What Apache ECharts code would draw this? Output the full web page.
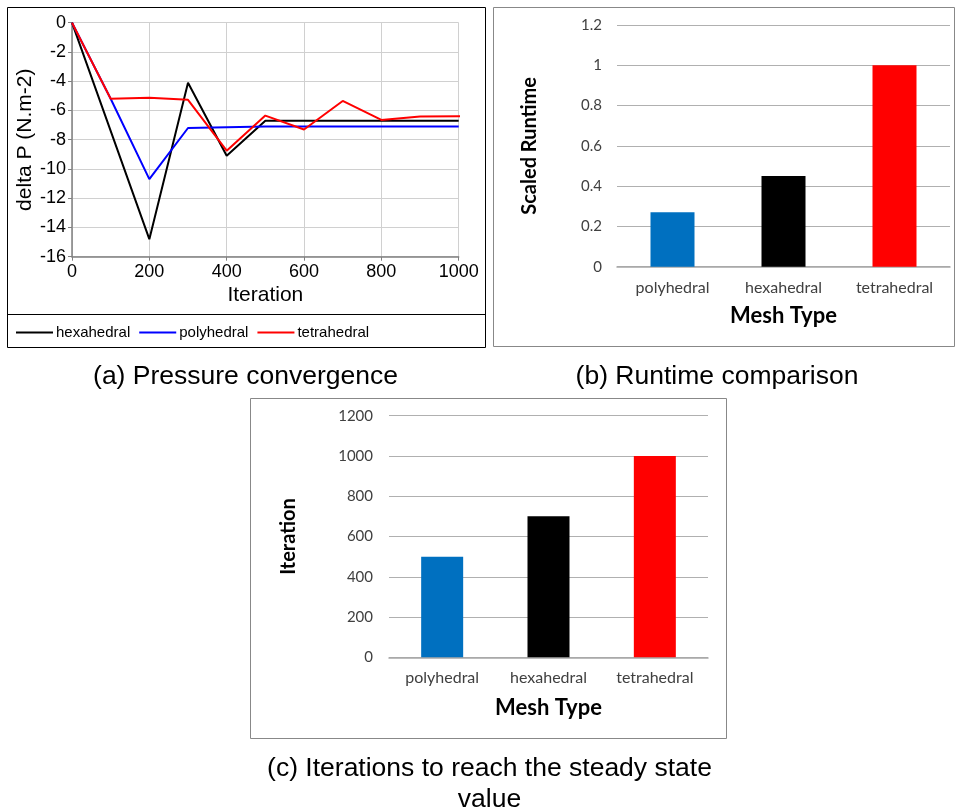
<!DOCTYPE html>
<html><head><meta charset="utf-8">
<script src="https://cdn.jsdelivr.net/npm/echarts@6/dist/echarts.min.js"></script>
<style>html,body{margin:0;padding:0;background:#fff}#c{width:956px;height:812px}</style>
</head><body><div id="c"></div>
<script>
// Panel (a): pressure convergence
const hexX = [0, 200, 300, 400, 500, 600, 700, 800, 900, 1000];
const hexY = [0, -14.8, -4.1, -9.1, -6.7, -6.7, -6.7, -6.7, -6.7, -6.7];
const polyX = [0, 100, 200, 300, 400, 500, 600, 700, 800, 900, 1000];
const polyY = [0, -5.2, -10.7, -7.2, -7.15, -7.1, -7.1, -7.1, -7.1, -7.1, -7.1];
const tetX = [0, 100, 200, 300, 400, 500, 600, 700, 800, 900, 1000, 1020];
const tetY = [0, -5.2, -5.13, -5.27, -8.75, -6.35, -7.3, -5.35, -6.65, -6.42, -6.4, -6.4];
const seriesNames = ['hexahedral', 'polyhedral', 'tetrahedral'];
const lineColors = ['#000000', '#0000ff', '#ff0000'];
// Panel (b): runtime
const meshTypes = ['polyhedral', 'hexahedral', 'tetrahedral'];
const runtime = [0.27, 0.45, 1.0];
// Panel (c): iterations to steady state
const iterations = [500, 700, 1000];
const barColors = ['#0070c0', '#000000', '#ff0000'];

const pair = (xs, ys) => xs.map((x, i) => [x, ys[i]]);
const cal = 'Lato, "Open Sans", sans-serif';
const ari = '"Liberation Sans", Arial, sans-serif';
const plain = v => String(v);

const chart = echarts.init(document.getElementById('c'), null, {renderer: 'canvas'});

function barX(gi, labelMargin, nameGap) {
  return {
    type: 'category', gridIndex: gi, data: meshTypes,
    axisLine: {lineStyle: {color: '#a6a6a6', width: 1.5}},
    axisTick: {show: false},
    axisLabel: {fontFamily: cal, fontSize: 16, color: '#404040', margin: labelMargin},
    name: 'Mesh Type', nameLocation: 'middle', nameGap: nameGap,
    nameTextStyle: {fontFamily: cal, fontSize: 22, fontWeight: 'bold', color: '#000'}
  };
}
function barY(gi, min, max, interval, name, nameGap, margin) {
  return {
    type: 'value', gridIndex: gi, min: min, max: max, interval: interval,
    axisLine: {show: false}, axisTick: {show: false},
    axisLabel: {fontFamily: cal, fontSize: 15, color: '#404040', margin: margin, formatter: plain},
    splitLine: {lineStyle: {color: '#b0b0b0', width: 1}},
    name: name, nameLocation: 'middle', nameGap: nameGap, nameRotate: 90,
    nameTextStyle: {fontFamily: cal, fontSize: 20, fontWeight: 'bold', color: '#000'}
  };
}

const option = {
  animation: false,
  backgroundColor: '#fff',
  grid: [
    {left: 72, top: 22.7, width: 386.7, height: 234},
    {left: 617, top: 25, width: 333, height: 241.7},
    {left: 389, top: 415.7, width: 319, height: 241.6}
  ],
  legend: {
    left: 11, top: 320, itemWidth: 37, itemHeight: 10, itemGap: 9,
    icon: 'path://M0,4 L37,4 L37,6 L0,6 Z',
    data: seriesNames.map((n, i) => ({name: n, itemStyle: {color: lineColors[i]}})),
    textStyle: {fontFamily: ari, fontSize: 15, color: '#000', padding: [0, 0, 0, -2]}
  },
  xAxis: [
    {
      type: 'value', gridIndex: 0, min: 0, max: 1000, interval: 200,
      axisLine: {onZero: false, lineStyle: {color: '#808080', width: 1.5}},
      axisTick: {show: true, length: 4, lineStyle: {color: '#808080'}},
      axisLabel: {fontFamily: ari, fontSize: 18, color: '#000', margin: 6, formatter: plain},
      splitLine: {lineStyle: {color: '#d0d0d0', width: 1}},
      name: 'Iteration', nameLocation: 'middle', nameGap: 28,
      nameTextStyle: {fontFamily: ari, fontSize: 21, color: '#000'}
    },
    barX(1, 13, 38),
    barX(2, 13, 40)
  ],
  yAxis: [
    {
      type: 'value', gridIndex: 0, min: -16, max: 0, interval: 2,
      axisLine: {show: true, lineStyle: {color: '#808080', width: 1.5}},
      axisTick: {show: true, length: 4, lineStyle: {color: '#808080'}},
      axisLabel: {fontFamily: ari, fontSize: 18, color: '#000', margin: 6},
      splitLine: {lineStyle: {color: '#d0d0d0', width: 1}},
      name: 'delta P (N.m-2)', nameLocation: 'middle', nameGap: 36, nameRotate: 90,
      nameTextStyle: {fontFamily: ari, fontSize: 21, color: '#000'}
    },
    barY(1, 0, 1.2, 0.2, 'Scaled Runtime', 77, 15),
    barY(2, 0, 1200, 200, 'Iteration', 90, 16)
  ],
  series: [
    {name: seriesNames[0], type: 'line', xAxisIndex: 0, yAxisIndex: 0, data: pair(hexX, hexY),
     symbol: 'none', lineStyle: {color: lineColors[0], width: 2}, itemStyle: {color: lineColors[0]}, z: 3},
    {name: seriesNames[1], type: 'line', xAxisIndex: 0, yAxisIndex: 0, data: pair(polyX, polyY),
     symbol: 'none', lineStyle: {color: lineColors[1], width: 2}, itemStyle: {color: lineColors[1]}, z: 4},
    {name: seriesNames[2], type: 'line', xAxisIndex: 0, yAxisIndex: 0, data: pair(tetX, tetY), clip: false,
     symbol: 'none', lineStyle: {color: lineColors[2], width: 2}, itemStyle: {color: lineColors[2]}, z: 5},
    {type: 'bar', xAxisIndex: 1, yAxisIndex: 1, barWidth: 44,
     data: runtime.map((v, i) => ({value: v, itemStyle: {color: barColors[i]}}))},
    {type: 'bar', xAxisIndex: 2, yAxisIndex: 2, barWidth: 42,
     data: iterations.map((v, i) => ({value: v, itemStyle: {color: barColors[i]}}))}
  ],
  graphic: [
    {type: 'rect', shape: {x: 7.5, y: 7.5, width: 478, height: 340}, style: {fill: 'none', stroke: '#000', lineWidth: 1}},
    {type: 'line', shape: {x1: 7.5, y1: 314.5, x2: 485.5, y2: 314.5}, style: {stroke: '#000', lineWidth: 1}},
    {type: 'rect', shape: {x: 493.5, y: 7.5, width: 461, height: 339}, style: {fill: 'none', stroke: '#888', lineWidth: 1}},
    {type: 'rect', shape: {x: 250.5, y: 398.5, width: 476, height: 340}, style: {fill: 'none', stroke: '#888', lineWidth: 1}},
    {type: 'text', x: 245.5, y: 377, style: {text: '(a) Pressure convergence', fontFamily: ari, fontSize: 26.5, fill: '#000', align: 'center', verticalAlign: 'middle'}},
    {type: 'text', x: 717, y: 377, style: {text: '(b) Runtime comparison', fontFamily: ari, fontSize: 26.5, fill: '#000', align: 'center', verticalAlign: 'middle'}},
    {type: 'text', x: 489.5, y: 769, style: {text: '(c) Iterations to reach the steady state', fontFamily: ari, fontSize: 26.5, fill: '#000', align: 'center', verticalAlign: 'middle'}},
    {type: 'text', x: 489.5, y: 800, style: {text: 'value', fontFamily: ari, fontSize: 26.5, fill: '#000', align: 'center', verticalAlign: 'middle'}}
  ]
};
chart.setOption(option);
</script></body></html>
